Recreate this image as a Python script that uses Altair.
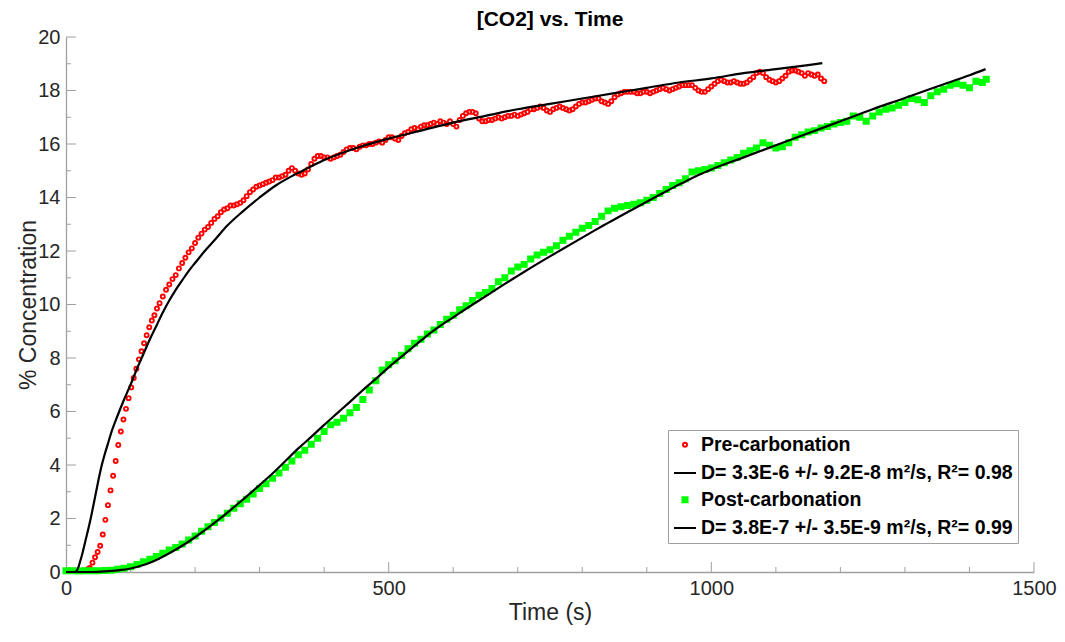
import altair as alt
import pandas as pd

# ---------------- data ----------------
LABELS = [
    "Pre-carbonation",
    "D= 3.3E-6 +/- 9.2E-8 m²/s, R²= 0.98",
    "Post-carbonation",
    "D= 3.8E-7 +/- 3.5E-9 m²/s, R²= 0.99",
]

# Pre-carbonation measurements (time s, % CO2)
pre_data = [
    (0, 0.05), (5, 0.06), (10, 0.05), (15, 0.06), (20, 0.05), (25, 0.06), (30, 0.06), (35, 0.12),
    (37, 0.15), (41, 0.35), (45, 0.55), (49, 0.75), (53, 0.98), (57, 1.4), (61, 1.95), (65, 2.5),
    (69, 3.05), (73, 3.6), (77, 4.15), (81, 4.75), (85, 5.25), (89, 5.7), (93, 6.1), (97, 6.5),
    (101, 6.9), (105, 7.25), (109, 7.6), (113, 7.95), (117, 8.25), (121, 8.55), (125, 8.85),
    (129, 9.15), (133, 9.4), (137, 9.6), (141, 9.85), (145, 10.05), (150, 10.3), (155, 10.55),
    (160, 10.75), (165, 10.95), (170, 11.1), (175, 11.35), (180, 11.55), (185, 11.75), (190, 11.95),
    (195, 12.1), (200, 12.3), (205, 12.5), (210, 12.65), (215, 12.8), (220, 12.9), (225, 13.05),
    (230, 13.2), (235, 13.3), (240, 13.45), (245, 13.55), (250, 13.6), (255, 13.7), (260, 13.7),
    (265, 13.75), (270, 13.8), (275, 13.9), (280, 14.05), (285, 14.2), (290, 14.3), (295, 14.4),
    (300, 14.45), (305, 14.5), (310, 14.55), (315, 14.6), (320, 14.65), (325, 14.75), (330, 14.75),
    (335, 14.8), (340, 14.85), (345, 15.0), (350, 15.1), (355, 15.0), (360, 14.9), (365, 14.85),
    (370, 14.9), (375, 15.05), (380, 15.25), (385, 15.45), (390, 15.55), (395, 15.55), (400, 15.5),
    (405, 15.5), (410, 15.45), (415, 15.5), (420, 15.55), (425, 15.6), (430, 15.7), (435, 15.8),
    (440, 15.85), (445, 15.85), (450, 15.8), (455, 15.9), (460, 15.95), (465, 15.95), (470, 16.0),
    (475, 16.0), (480, 16.05), (485, 16.1), (490, 16.05), (495, 16.15), (500, 16.25), (505, 16.25),
    (510, 16.2), (515, 16.15), (520, 16.3), (525, 16.4), (530, 16.45), (535, 16.55), (540, 16.6),
    (545, 16.55), (550, 16.65), (555, 16.7), (560, 16.7), (565, 16.75), (570, 16.8), (575, 16.75),
    (580, 16.85), (585, 16.8), (590, 16.75), (595, 16.85), (600, 16.75), (605, 16.65), (610, 16.9),
    (615, 17.05), (620, 17.15), (625, 17.2), (630, 17.2), (635, 17.15), (640, 16.95), (645, 16.85),
    (650, 16.85), (655, 16.9), (660, 16.9), (665, 16.95), (670, 17.0), (675, 16.95), (680, 17.0),
    (685, 17.05), (690, 17.05), (695, 17.1), (700, 17.05), (705, 17.1), (710, 17.15), (715, 17.2),
    (720, 17.3), (725, 17.3), (730, 17.35), (735, 17.4), (740, 17.35), (745, 17.25), (750, 17.2),
    (755, 17.3), (760, 17.35), (765, 17.4), (770, 17.35), (775, 17.3), (780, 17.25), (785, 17.3),
    (790, 17.4), (795, 17.5), (800, 17.55), (805, 17.55), (810, 17.6), (815, 17.65), (820, 17.7),
    (825, 17.7), (830, 17.6), (835, 17.55), (840, 17.5), (845, 17.6), (850, 17.75), (855, 17.85),
    (860, 17.9), (865, 17.95), (870, 17.95), (875, 17.95), (880, 17.95), (885, 17.9), (890, 17.9),
    (895, 17.95), (900, 17.95), (905, 17.9), (910, 17.95), (915, 18.0), (920, 18.05), (925, 18.1),
    (930, 18.05), (935, 18.0), (940, 18.05), (945, 18.1), (950, 18.15), (955, 18.2), (960, 18.2),
    (965, 18.2), (970, 18.2), (975, 18.1), (980, 18.0), (985, 17.95), (990, 17.95), (995, 18.05),
    (1000, 18.15), (1005, 18.25), (1010, 18.35), (1015, 18.4), (1020, 18.35), (1025, 18.3),
    (1030, 18.3), (1035, 18.35), (1040, 18.3), (1045, 18.25), (1050, 18.25), (1055, 18.3),
    (1060, 18.4), (1065, 18.5), (1070, 18.65), (1075, 18.7), (1080, 18.65), (1085, 18.5),
    (1090, 18.4), (1095, 18.35), (1100, 18.3), (1105, 18.35), (1110, 18.45), (1115, 18.55),
    (1120, 18.7), (1125, 18.75), (1130, 18.75), (1135, 18.7), (1140, 18.65), (1145, 18.55),
    (1150, 18.65), (1155, 18.6), (1160, 18.55), (1165, 18.6), (1170, 18.45), (1175, 18.35),
]

# Pre-carbonation fit curve
pre_fit = [
    (0, 0.0), (14, 0.0), (18, 0.1), (22, 0.4), (26, 0.75), (30, 1.15), (35, 1.65), (40, 2.2),
    (45, 2.8), (50, 3.4), (55, 3.95), (60, 4.4), (65, 4.8), (70, 5.2), (80, 5.85), (90, 6.45),
    (100, 7.0), (110, 7.6), (120, 8.15), (130, 8.7), (140, 9.2), (150, 9.7), (160, 10.15),
    (170, 10.55), (180, 10.9), (190, 11.25), (200, 11.55), (215, 12.0), (230, 12.4), (250, 12.95),
    (275, 13.5), (300, 14.0), (325, 14.45), (350, 14.8), (375, 15.1), (400, 15.4), (450, 15.85),
    (500, 16.2), (550, 16.5), (600, 16.8), (650, 17.05), (700, 17.3), (750, 17.5), (800, 17.7),
    (850, 17.9), (900, 18.1), (950, 18.3), (1000, 18.45), (1050, 18.65), (1100, 18.8),
    (1150, 18.95), (1172, 19.02),
]

# Post-carbonation measurements
post_data = [
    (0, 0.05), (10, 0.05), (20, 0.04), (30, 0.05), (40, 0.05), (50, 0.05), (60, 0.06), (70, 0.07),
    (80, 0.1), (90, 0.14), (100, 0.2), (110, 0.28), (120, 0.38), (130, 0.48), (140, 0.58),
    (150, 0.7), (160, 0.82), (170, 0.92), (180, 1.05), (190, 1.2), (200, 1.35), (210, 1.52),
    (220, 1.69), (230, 1.85), (240, 2.02), (250, 2.2), (260, 2.38), (270, 2.55), (280, 2.72),
    (290, 2.92), (300, 3.12), (310, 3.3), (320, 3.5), (330, 3.7), (340, 3.92), (350, 4.15),
    (360, 4.38), (370, 4.55), (380, 4.78), (390, 5.0), (400, 5.25), (410, 5.5), (420, 5.6),
    (430, 5.75), (440, 5.95), (450, 6.15), (460, 6.45), (470, 6.8), (480, 7.15), (490, 7.55),
    (500, 7.75), (510, 7.9), (520, 8.1), (530, 8.35), (540, 8.55), (550, 8.7), (560, 8.9),
    (570, 9.05), (580, 9.25), (590, 9.45), (600, 9.6), (610, 9.8), (620, 9.95), (630, 10.15),
    (640, 10.35), (650, 10.45), (660, 10.6), (670, 10.85), (680, 11.0), (690, 11.25), (700, 11.4),
    (710, 11.5), (720, 11.7), (730, 11.85), (740, 11.95), (750, 12.05), (760, 12.2), (770, 12.4),
    (780, 12.55), (790, 12.7), (800, 12.85), (810, 12.95), (820, 13.1), (830, 13.3), (840, 13.5),
    (850, 13.6), (860, 13.65), (870, 13.7), (880, 13.75), (890, 13.8), (900, 13.9), (910, 14.0),
    (920, 14.15), (930, 14.3), (940, 14.45), (950, 14.55), (960, 14.7), (970, 14.95), (980, 15.0),
    (990, 15.05), (1000, 15.1), (1010, 15.2), (1020, 15.3), (1030, 15.4), (1040, 15.5),
    (1050, 15.65), (1060, 15.75), (1070, 15.85), (1080, 16.05), (1090, 15.95), (1100, 15.85),
    (1110, 15.9), (1120, 16.05), (1130, 16.25), (1140, 16.35), (1150, 16.45), (1160, 16.5),
    (1170, 16.6), (1180, 16.65), (1190, 16.75), (1200, 16.8), (1210, 16.85), (1220, 17.05),
    (1230, 17.0), (1240, 16.85), (1250, 17.05), (1260, 17.2), (1270, 17.3), (1280, 17.35),
    (1290, 17.45), (1300, 17.55), (1310, 17.7), (1320, 17.65), (1330, 17.55), (1340, 17.8),
    (1350, 17.95), (1360, 18.05), (1370, 18.2), (1380, 18.25), (1390, 18.2), (1400, 18.1),
    (1410, 18.35), (1420, 18.3), (1426, 18.42),
]

# Post-carbonation fit curve
post_fit = [
    (0, 0.0), (40, 0.0), (60, 0.02), (80, 0.06), (100, 0.13), (120, 0.26), (140, 0.45), (160, 0.7),
    (180, 0.98), (200, 1.3), (220, 1.65), (240, 2.02), (260, 2.42), (280, 2.83), (300, 3.25),
    (320, 3.68), (340, 4.15), (360, 4.62), (380, 5.05), (400, 5.5), (420, 5.93), (440, 6.36),
    (460, 6.8), (480, 7.22), (500, 7.65), (520, 8.05), (540, 8.45), (560, 8.85), (580, 9.2),
    (600, 9.52), (620, 9.84), (640, 10.15), (660, 10.46), (680, 10.77), (700, 11.07), (720, 11.37),
    (740, 11.66), (760, 11.94), (780, 12.22), (800, 12.5), (820, 12.78), (840, 13.05), (860, 13.32),
    (880, 13.58), (900, 13.84), (920, 14.1), (940, 14.36), (960, 14.6), (980, 14.84),
    (1000, 15.05), (1050, 15.5), (1100, 15.95), (1150, 16.4), (1200, 16.85), (1250, 17.3),
    (1300, 17.72), (1350, 18.15), (1400, 18.57), (1425, 18.8),
]

x_major_ticks = [500, 1000, 1500]
x_minor_ticks = [100, 200, 300, 400, 600, 700, 800, 900, 1100, 1200, 1300, 1400]
y_major_ticks = [2, 4, 6, 8, 10, 12, 14, 16, 18, 20]
y_minor_ticks = [1, 3, 5, 7, 9, 11, 13, 15, 17, 19]

# ---------------- tables ----------------
pts = pd.DataFrame(
    [(t, c, LABELS[0]) for t, c in pre_data] + [(t, c, LABELS[2]) for t, c in post_data],
    columns=["t", "c", "series"],
)
fits = pd.DataFrame(
    [(t, c, "pre") for t, c in pre_fit] + [(t, c, "post") for t, c in post_fit],
    columns=["t", "c", "fit"],
)

W, H = 968, 535
FONT = "Liberation Sans"
AXIS_GRAY = "#a0a0a0"

xs = alt.Scale(domain=[0, 1500], nice=False, zero=False)
ys = alt.Scale(domain=[0, 20], nice=False)

x_axis = alt.Axis(values=[0, 500, 1000, 1500], format="d", ticks=False, grid=False,
                  labelFlush=False, domainColor=AXIS_GRAY, domainWidth=1.3, labelFont=FONT,
                  labelFontSize=20, labelColor="#262626", labelPadding=6, title="Time (s)",
                  titleFont=FONT, titleFontSize=23, titleFontWeight="normal",
                  titleColor="#262626", titlePadding=3)
y_axis = alt.Axis(values=list(range(0, 21, 2)), format="d", ticks=False, grid=False,
                  labelFlush=False, domainColor=AXIS_GRAY, domainWidth=1.3, labelFont=FONT,
                  labelFontSize=20, labelColor="#262626", labelPadding=6,
                  title="% Concentration", titleFont=FONT, titleFontSize=23,
                  titleFontWeight="normal", titleColor="#262626", titlePadding=-3)

points = alt.Chart(pts).mark_point(filled=False, strokeWidth=1.9, opacity=1).encode(
    x=alt.X("t:Q", scale=xs, axis=x_axis),
    y=alt.Y("c:Q", scale=ys, axis=y_axis),
    color=alt.Color("series:N", scale=alt.Scale(domain=LABELS,
                    range=["#ff0000", "#000000", "#00ff00", "#000000"]),
                    legend=alt.Legend(orient="none", legendX=602, legendY=393, title=None,
                                      labelFont=FONT, labelFontWeight="bold", labelFontSize=19.5,
                                      labelColor="#000000", labelLimit=500, strokeColor=AXIS_GRAY,
                                      fillColor="#ffffff", padding=5, rowPadding=6,
                                      symbolStrokeWidth=2, labelOffset=4)),
    fill=alt.Fill("series:N", scale=alt.Scale(domain=LABELS,
                  range=["transparent", "transparent", "#00ff00", "transparent"])),
    shape=alt.Shape("series:N", scale=alt.Scale(domain=LABELS,
                    range=["circle", "stroke", "square", "stroke"])),
    size=alt.Size("series:N", scale=alt.Scale(type="ordinal", domain=LABELS,
                  range=[16, 484, 26, 484])),
)

lines = alt.Chart(fits).mark_line(color="#000000", strokeWidth=2.2, interpolate="monotone").encode(
    x=alt.X("t:Q", scale=xs),
    y=alt.Y("c:Q", scale=ys),
    detail="fit:N",
)

xmaj = alt.Chart(pd.DataFrame({"t": x_major_ticks})).mark_rule(color=AXIS_GRAY, strokeWidth=1).encode(
    x=alt.X("t:Q", scale=xs), y=alt.value(H), y2=alt.value(H - 10))
xmin = alt.Chart(pd.DataFrame({"t": x_minor_ticks})).mark_rule(color=AXIS_GRAY, strokeWidth=1).encode(
    x=alt.X("t:Q", scale=xs), y=alt.value(H), y2=alt.value(H - 5))
ymaj = alt.Chart(pd.DataFrame({"c": y_major_ticks})).mark_rule(color=AXIS_GRAY, strokeWidth=1).encode(
    y=alt.Y("c:Q", scale=ys), x=alt.value(0), x2=alt.value(10))
ymin = alt.Chart(pd.DataFrame({"c": y_minor_ticks})).mark_rule(color=AXIS_GRAY, strokeWidth=1).encode(
    y=alt.Y("c:Q", scale=ys), x=alt.value(0), x2=alt.value(5))

chart = alt.layer(xmaj, xmin, ymaj, ymin, points, lines).properties(
    width=W, height=H,
    background="#ffffff",
    autosize=alt.AutoSizeParams(type="none"),
    padding={"left": 58, "top": 29, "right": 23, "bottom": 62},
    title=alt.TitleParams("[CO2] vs. Time", font=FONT, fontSize=21, fontWeight="bold",
                          color="#000000", anchor="middle", offset=-3),
).configure_view(stroke=None)

chart.save("out.html", embed_options={"renderer": "svg", "actions": False})
